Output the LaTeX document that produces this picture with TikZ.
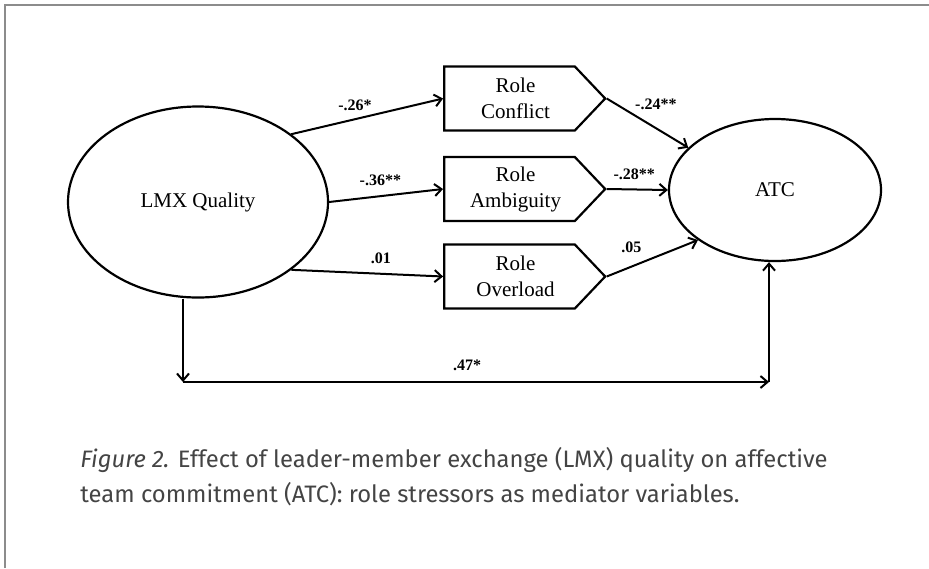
\documentclass[tikz,border=0pt]{standalone}
\usepackage{fontspec}
\setmainfont{Liberation Serif}
\setsansfont{Fira Sans}
\usetikzlibrary{shapes.geometric,shapes.symbols,arrows.meta}
\definecolor{framegray}{HTML}{8C8C8C}
\definecolor{captiongray}{HTML}{444444}
\begin{document}
\begin{tikzpicture}[x=0.5pt, y=-0.5pt,
        latent/.style={draw, line width=1.1pt, ellipse, inner sep=0pt, font=\fontsize{10.5}{12}\selectfont},
        stressor/.style={draw, line width=1.1pt, signal, signal to=east, signal pointer angle=93,
            minimum width=80.5pt, minimum height=32pt, inner sep=0pt, align=center,
            font=\fontsize{10.5}{13}\selectfont},
        link/.style={line width=1pt, -{Straight Barb[length=3.5pt,width=6pt,line width=1pt]}},
        coef/.style={font=\fontsize{8}{9}\selectfont\bfseries, inner sep=1.5pt},
        caption/.style={anchor=base west, inner sep=0pt, text=captiongray, font=\sffamily\fontsize{11.9}{14}\selectfont}]
        \useasboundingbox (0, 0) rectangle (929, 568);
        \draw [framegray, line width=1pt] (5, 568) -- (5, 5) -- (929, 5);

        \node [latent, minimum width=130pt, minimum height=95.5pt] at (198, 202) (lmx) {LMX Quality};
        \node [latent, minimum width=106pt, minimum height=71pt] at (775, 190) (atc) {ATC};
        \node [stressor] at (509.5, 98.5) (rc) {\hspace*{6pt}Role\\\hspace*{6pt}Conflict};
        \node [stressor] at (509.5, 189) (ra) {\hspace*{6pt}Role\\\hspace*{6pt}Ambiguity};
        \node [stressor] at (509.5, 276.5) (ro) {\hspace*{6pt}Role\\\hspace*{6pt}Overload};
        \coordinate (dl) at (183, 382);
        \coordinate (dr) at (769, 382);

        \draw [link] (lmx.36) -- node[coef, above=2pt, pos=0.42] {-.26*} (rc.west);
        \draw [link] (lmx.east) -- node[coef, above=3pt, pos=0.45] {-.36**} (ra.west);
        \draw [link] (lmx.-36) -- node[coef, above=3pt, pos=0.59] {.01} (ro.west);
        \draw [link] (rc.east) -- node[coef, above right, pos=0.3] {-.24**} (atc.154);
        \draw [link] (ra.east) -- node[coef, above=3pt, pos=0.45] {-.28**} (atc.west);
        \draw [link] (ro.east) -- node[coef, above=5pt, pos=0.27] {.05} (atc.213);
        \draw [link] (lmx.south -| dl) -- (dl);
        \draw [link] (dl) -- node[coef, above=3.5pt, pos=0.485] {.47*} (dr);
        \draw [link] (dr) -- (atc.south -| dr);

        \node [caption] at (80, 467) (cap1) {\textit{Figure 2.} Effect of leader-member exchange (LMX) quality on affective};
        \node [caption] at (80, 502) (cap2) {team commitment (ATC): role stressors as mediator variables.};
\end{tikzpicture}
\end{document}
